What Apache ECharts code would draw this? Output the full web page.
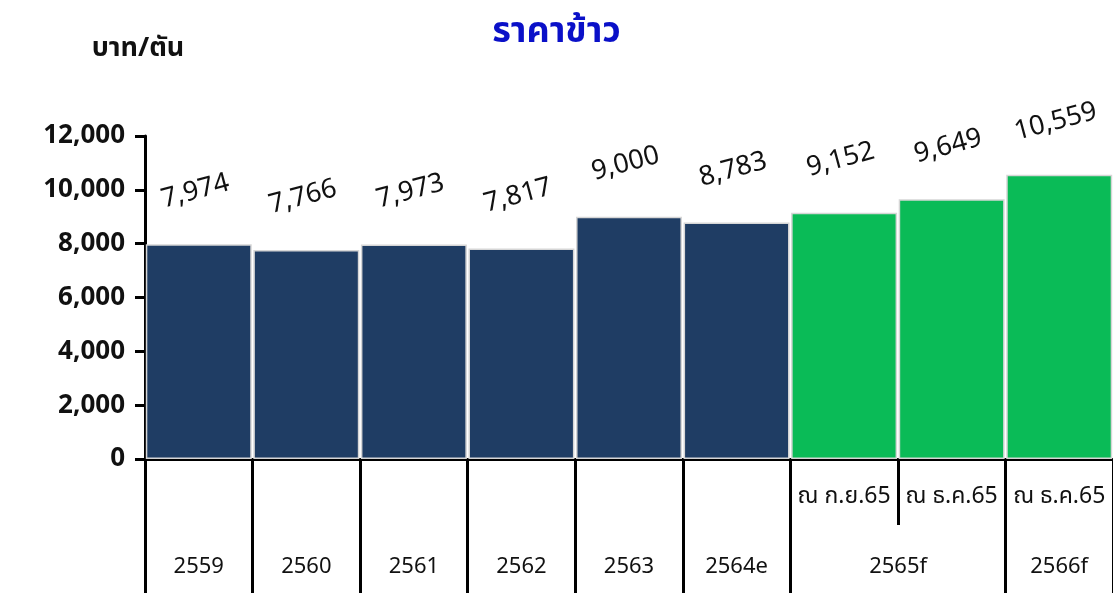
<!DOCTYPE html>
<html>
<head>
<meta charset="utf-8">
<script src="https://cdn.jsdelivr.net/npm/echarts@6/dist/echarts.min.js"></script>
<style>
  html,body{margin:0;padding:0;background:#fff;}
  #chart{width:1113px;height:593px;}
</style>
</head>
<body>
<div id="chart"></div>
<script>
// ข้อมูลราคาข้าว
var periods = ["2559","2560","2561","2562","2563","2564e","2565f","2565f","2566f"];
var notes = ["","","","","","","ณ ก.ย.65","ณ ธ.ค.65","ณ ธ.ค.65"];
var prices = [7974, 7766, 7973, 7817, 9000, 8783, 9152, 9649, 10559];
var yTicks = [0, 2000, 4000, 6000, 8000, 10000, 12000];

(function(){
    var myChart = echarts.init(document.getElementById("chart"));
    var navy = "#1f3d64";
    var green = "#0abb57";
    var font = "'Noto Sans', 'Noto Sans Thai', sans-serif";

    // แถวปี: 2565f ตัวเดียวคร่อมสองแท่ง
    var yearLabels = periods.map(function(p, i){
        if (i > 0 && periods[i-1] === p) return "";
        if (periods[i+1] === p) {
            return {value: p, textStyle: {padding: [0, 0, 0, 108]}};
        }
        return p;
    });

    var option = {
        textStyle:{fontFamily: font},
        title: {
            text: "ราคาข้าว",
            left: "center",
            top: 9,
            textStyle: {color: "#0a10c8", fontSize: 36, fontWeight: "bold", fontFamily: font}
        },
        grid: {left: 145, right: 0, top: 136, bottom: 134},
        xAxis: [
          {
            type: "category",
            position: "bottom",
            data: yearLabels,
            axisLine: {lineStyle: {color: "#000", width: 3}},
            axisTick: {
                show: true,
                length: 134,
                interval: function(idx){ return !(idx > 0 && periods[idx-1] === periods[idx]); },
                lineStyle: {color: "#000", width: 3}
            },
            axisLabel: {
                interval: 0,
                margin: 97,
                color: "#111",
                fontSize: 22,
                fontFamily: font
            }
          },
          {
            // แถวบน: เส้นแบ่งสั้นระหว่างสองแท่งของ 2565f
            type: "category",
            position: "bottom",
            data: notes,
            axisLine: {show: true, lineStyle: {color: "#000", width: 3}},
            axisTick: {
                show: true,
                length: 66,
                interval: 0,
                lineStyle: {color: "#000", width: 3}
            },
            axisLabel: {
                interval: 0,
                margin: 26,
                color: "#111",
                fontSize: 23,
                fontFamily: font
            }
          }
        ],
        yAxis: {
            type: "value",
            min: yTicks[0],
            max: yTicks[yTicks.length-1],
            interval: 2000,
            name: "บาท/ตัน",
            nameLocation: "end",
            nameGap: 74,
            nameTextStyle: {color: "#111", fontSize: 27, fontWeight: "bold", fontFamily: font, padding: [0, 14, 0, 0]},
            axisLine: {show: true, lineStyle: {color: "#000", width: 3}},
            axisTick: {show: true, length: 10, lineStyle: {color: "#000", width: 3}},
            splitLine: {show: false},
            axisLabel: {
                margin: 20,
                color: "#111",
                fontSize: 26,
                fontWeight: "bold",
                fontFamily: font,
                formatter: function(v){ return v.toLocaleString("en-US"); }
            }
        },
        series: [
          {
            type: "bar",
            xAxisIndex: 0,
            barCategoryGap: "1.5%",
            data: prices.map(function(v, i){
                return {value: v, itemStyle: {color: periods[i].slice(-1) === "f" ? green : navy}};
            }),
            itemStyle: {borderColor: "#d6d6d6", borderWidth: 1.5},
            label: {
                show: true,
                position: "top",
                distance: 40,
                rotate: 15,
                color: "#111",
                fontSize: 27,
                fontFamily: font,
                formatter: function(p){ return p.value.toLocaleString("en-US"); }
            }
          }
        ]
    };
    myChart.setOption(option);

    window.addEventListener("resize", function(){
        myChart.resize();
    });
})();
</script>
</body>
</html>
